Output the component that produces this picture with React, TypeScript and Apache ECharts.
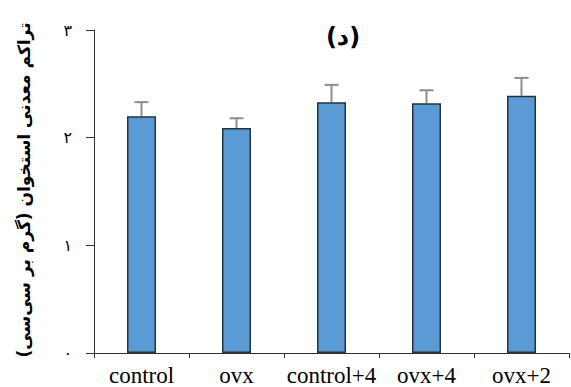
import React, { useEffect, useRef } from "react";
import * as echarts from "echarts";

const categories = ["control", "ovx", "control+4", "ovx+4", "ovx+2"];
const means = [2.2, 2.09, 2.33, 2.32, 2.39];
const errors = [0.13, 0.09, 0.16, 0.12, 0.165];
const yTicks = ["۰", "۱", "۲", "۳"];
const titleText = "(د)";
const yTitle = "تراکم معدنی استخوان (گرم بر سی‌سی)";

export default function App() {
  const ref = useRef<HTMLDivElement>(null);
  useEffect(() => {
    const chart = echarts.init(ref.current!, null, { renderer: "svg" });
    chart.setOption({
      animation: false,
      backgroundColor: "#ffffff",
      grid: { left: 94, right: 2, top: 30, bottom: 32 },
      title: {
        text: titleText,
        left: 338,
        top: 20,
        textAlign: "center",
        textStyle: { fontFamily: "DejaVu Sans", fontWeight: "bold", fontSize: 24, color: "#000" },
      },
      graphic: [
        {
          type: "text",
          x: 24,
          y: 190,
          rotation: Math.PI / 2,
          style: {
            text: yTitle,
            fontFamily: "DejaVu Sans",
            fontWeight: "bold",
            fontSize: 17,
            fill: "#000",
            align: "center",
            verticalAlign: "middle",
          },
        },
      ],
      xAxis: {
        type: "category",
        data: categories,
        axisLine: { lineStyle: { color: "#333", width: 1 } },
        axisTick: { show: true, length: 5, lineStyle: { color: "#333" } },
        axisLabel: {
          fontFamily: "'Liberation Serif', 'DejaVu Serif', serif",
          fontSize: 23,
          color: "#000",
          margin: 11,
          interval: 0,
        },
      },
      yAxis: {
        type: "value",
        min: 0,
        max: 3,
        interval: 1,
        splitLine: { show: false },
        axisLine: { show: true, lineStyle: { color: "#333", width: 1 } },
        axisTick: { show: true, length: 8, lineStyle: { color: "#333" } },
        axisLabel: {
          fontFamily: "DejaVu Sans",
          fontSize: 16,
          color: "#000",
          margin: 22,
          formatter: (v: number) => yTicks[Math.round(v)],
        },
      },
      series: [
        {
          type: "bar",
          data: means,
          barWidth: 29,
          itemStyle: { color: "#5b9bd5", borderColor: "#26323d", borderWidth: 1.5 },
        },
        {
          type: "custom",
          data: means.map((m, i) => [i, m, m + errors[i]]),
          z: 1,
          renderItem: (params: any, api: any) => {
            const x = api.value(0);
            const lo = api.coord([x, api.value(1)]);
            const hi = api.coord([x, api.value(2)]);
            const style = { stroke: "#8c8c8c", lineWidth: 2 };
            return {
              type: "group",
              children: [
                { type: "line", shape: { x1: lo[0], y1: lo[1], x2: hi[0], y2: hi[1] }, style },
                { type: "line", shape: { x1: hi[0] - 7, y1: hi[1], x2: hi[0] + 7, y2: hi[1] }, style },
              ],
            };
          },
        },
      ],
    });
    return () => chart.dispose();
  }, []);
  return <div ref={ref} style={{ width: 571, height: 387, position: "absolute", left: 0, top: 0 }} />;
}
